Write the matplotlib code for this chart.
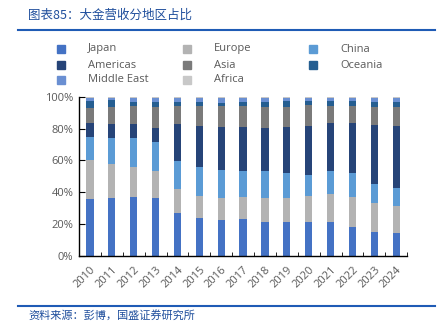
import numpy as np
import matplotlib.pyplot as plt
from matplotlib.lines import Line2D

plt.rcParams['font.family'] = ['Open Sans', 'Noto Sans CJK SC', 'DejaVu Sans']

years = [str(y) for y in range(2010, 2025)]
regions = ['Japan', 'Europe', 'China', 'Americas', 'Asia', 'Oceania',
           'Middle East', 'Africa']

# share of revenue, %
japan = [35.4, 36.1, 37.1, 36.5, 26.8, 23.9, 22.6, 23.3, 21.4, 21.4, 21.0, 21.4, 18.2, 15.1, 14.0]
europe = [24.8, 21.6, 18.7, 16.7, 15.1, 13.6, 13.9, 13.8, 15.1, 15.1, 16.5, 17.6, 18.7, 18.0, 17.0]
china = [14.2, 16.1, 18.2, 18.5, 17.8, 18.5, 17.4, 16.4, 16.8, 15.5, 13.4, 14.5, 14.9, 12.0, 11.3]
americas = [9.2, 8.8, 9.0, 8.8, 22.9, 25.8, 26.8, 27.6, 27.2, 29.1, 30.9, 29.7, 31.4, 36.9, 39.5]
asia = [9.4, 11.1, 10.9, 13.2, 11.5, 12.5, 13.4, 13.2, 12.8, 12.6, 13.0, 11.1, 10.9, 11.7, 11.5]
oceania = [4.2, 4.2, 2.7, 2.7, 2.3, 2.1, 2.1, 2.6, 3.4, 3.4, 2.7, 3.0, 3.2, 3.2, 3.1]
middle_east = [2.0, 1.6, 2.5, 2.8, 2.8, 3.0, 3.2, 2.5, 2.4, 2.3, 1.9, 2.1, 2.1, 2.5, 3.0]
africa = [0.4, 0.5, 0.5, 0.6, 0.6, 0.6, 0.6, 0.6, 0.6, 0.6, 0.6, 0.6, 0.6, 0.6, 0.6]

series = [japan, europe, china, americas, asia, oceania, middle_east, africa]
colors = ['#4472C4', '#B3B3B3', '#5B9BD5', '#264478', '#7A7A7A', '#255E91',
          '#6A8FD2', '#C8C8C8']

W, H = 444, 329
fig = plt.figure(figsize=(W / 100, H / 100), dpi=100)
ax = fig.add_axes([0.178, 0.223, 0.739, 0.483])

x = np.arange(len(years))
bottom = np.zeros(len(years))
for vals, c in zip(series, colors):
    ax.bar(x, vals, 0.33, bottom=bottom, color=c, zorder=2)
    bottom += np.array(vals)

ax.set_xlim(-0.5, len(years) - 0.5)
ax.set_ylim(0, 100)
ax.set_yticks(np.arange(0, 101, 20))
ax.set_yticklabels([f'{v}%' for v in range(0, 101, 20)])
ax.set_xticks(x)
ax.set_xticklabels(years, rotation=45, ha='right', rotation_mode='anchor')
ax.set_xticks(np.arange(-0.5, len(years)), minor=True)
ax.tick_params(axis='x', which='major', length=0, pad=6, labelsize=8, colors='#595959')
ax.tick_params(axis='x', which='minor', direction='in', length=3, color='black')
ax.tick_params(axis='y', direction='in', length=4, labelsize=8, colors='#595959', pad=4)
ax.tick_params(axis='y', color='black')
for s in ['top', 'right']:
    ax.spines[s].set_visible(False)
for s in ['left', 'bottom']:
    ax.spines[s].set_color('black')
    ax.spines[s].set_linewidth(1)

# legend laid out by hand: 3 fixed-width columns, filled row by row
col_x = [61, 187, 313]
row_y = [49, 65, 80]
for i, (name, c) in enumerate(zip(regions, colors)):
    r, k = divmod(i, 3)
    mx, my = col_x[k] / W, 1 - row_y[r] / H
    fig.add_artist(Line2D([mx], [my], marker='s', markersize=5.5, linestyle='none',
                          markerfacecolor=c, markeredgecolor=c))
    fig.text(mx + 27 / W, my, name, fontsize=8, color='#595959', va='center')

# header and footer
fig.text(0.063, 0.955, '图表85：大金营收分地区占比', fontsize=9, color='#1F4E9C',
         style='italic', va='center', family=['Noto Sans CJK SC', 'DejaVu Sans'])
fig.add_artist(Line2D([0.041, 0.98], [0.909, 0.909], color='#1F5BB5', linewidth=1.5))
fig.add_artist(Line2D([0.041, 0.98], [0.071, 0.071], color='#1F5BB5', linewidth=1.5))
fig.text(0.065, 0.04, '资料来源：彭博，国盛证券研究所', fontsize=8, color='#1F4E9C',
         style='italic', va='center', family=['Noto Sans CJK SC', 'DejaVu Sans'])

fig.savefig('out.png', dpi=100)
